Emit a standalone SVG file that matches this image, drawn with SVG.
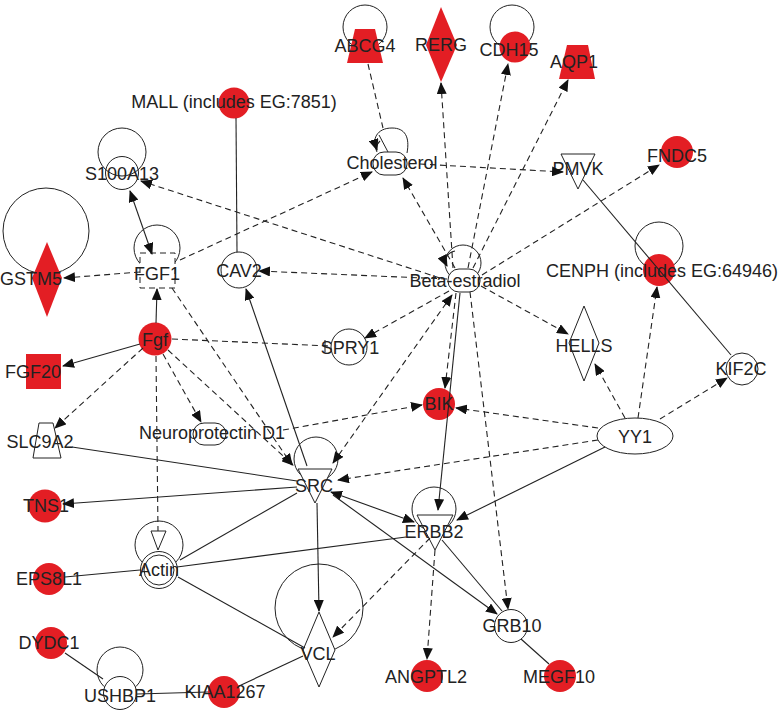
<svg xmlns="http://www.w3.org/2000/svg" width="779" height="711" viewBox="0 0 779 711">
<defs>
<style>
.n{fill:#fff;stroke:#222;stroke-width:1}
.o{fill:none;stroke:#222;stroke-width:1}
.r{fill:#e31e24;stroke:none}
.t{font-family:"Liberation Sans",Arial,sans-serif;font-size:18px;fill:#222;text-anchor:middle}
.e{fill:none;stroke:#222;stroke-width:1.1}
.d{stroke-dasharray:6 4}
.a{marker-end:url(#ah)}
.b{marker-start:url(#ah);marker-end:url(#ah)}
</style>
<marker id="ah" markerUnits="userSpaceOnUse" markerWidth="12" markerHeight="10" refX="11" refY="5" orient="auto-start-reverse" viewBox="0 0 12 10">
<path d="M0,0 L12,5 L0,10 z" fill="#111"/>
</marker>
</defs>
<rect width="779" height="711" fill="#fff"/>

<g id="ABCG4"><circle class="o" cx="365" cy="27" r="22"/><polygon class="r" points="355,29 375,29 383,63 347,63"/><text class="t" x="365" y="52">ABCG4</text></g>
<g id="RERG"><polygon class="r" points="441,7 457,45 441,82 426,45"/><text class="t" x="441" y="51">RERG</text></g>
<g id="CDH15"><circle class="o" cx="512" cy="27" r="22"/><circle class="r" cx="515" cy="47" r="15.5"/><text class="t" x="509" y="56">CDH15</text></g>
<g id="AQP1"><polygon class="r" points="567,45 588,45 595,79 559,79"/><text class="t" x="574" y="68">AQP1</text></g>
<g id="MALL"><circle class="r" cx="234" cy="103" r="15.5"/><text class="t" x="234" y="108">MALL (includes EG:7851)</text></g>
<g id="Cholesterol"><path class="o" d="M377,152 C371,139 377,128 392,128 C405,128 410,137 407,153"/><line class="o" x1="379" y1="135" x2="388" y2="152"/><rect class="n" x="373" y="152" width="34" height="23" rx="11"/><text class="t" x="392" y="169">Cholesterol</text></g>
<g id="PMVK"><polygon class="n" points="561,154 595,154 578,189"/><text class="t" x="578" y="175">PMVK</text></g>
<g id="FNDC5"><circle class="r" cx="677" cy="152" r="16"/><text class="t" x="677" y="162">FNDC5</text></g>
<g id="S100A13"><circle class="o" cx="122" cy="152" r="24"/><circle class="n" cx="122" cy="173" r="16.5" fill-opacity="0"/><text class="t" x="122" y="180">S100A13</text></g>
<g id="GSTM5"><circle class="o" cx="46" cy="231" r="43"/><polygon class="r" points="47,242 62,278 47,317 32,278"/><text class="t" x="31" y="285">GSTM5</text></g>
<g id="FGF1"><circle class="o" cx="157" cy="248" r="23"/><rect class="n d" x="140" y="253" width="35" height="35"/><text class="t" x="157" y="280">FGF1</text></g>
<g id="CAV2"><circle class="n" cx="239" cy="270" r="18"/><text class="t" x="239" y="277">CAV2</text></g>
<g id="Beta-estradiol"><circle class="o" cx="463" cy="263" r="18"/><rect class="n" x="448" y="269" width="32" height="23" rx="11"/><text class="t" x="465" y="287">Beta-estradiol</text></g>
<g id="CENPH"><circle class="o" cx="659" cy="246" r="24"/><circle class="r" cx="659" cy="270" r="16"/><text class="t" x="662" y="277">CENPH (includes EG:64946)</text></g>
<g id="Fgf"><circle class="r" cx="155" cy="339" r="16.5"/><text class="t" x="155" y="346">Fgf</text></g>
<g id="SPRY1"><circle class="n" cx="349" cy="347" r="18"/><text class="t" x="350" y="354">SPRY1</text></g>
<g id="HELLS"><polygon class="n" points="584,306 599,343 584,381 569,343"/><text class="t" x="584" y="352">HELLS</text></g>
<g id="FGF20"><rect class="r" x="26" y="354" width="35" height="35"/><text class="t" x="33" y="378">FGF20</text></g>
<g id="KIF2C"><circle class="n" cx="742" cy="369" r="16"/><text class="t" x="741" y="375">KIF2C</text></g>
<g id="BIK"><circle class="r" cx="439" cy="404" r="16"/><text class="t" x="439" y="410">BIK</text></g>
<g id="SLC9A2"><polygon class="n" points="39,423 53,423 61,458 33,458"/><text class="t" x="40" y="448">SLC9A2</text></g>
<g id="Neuroprotectin_D1"><rect class="n" x="193" y="423" width="33" height="22" rx="11"/><text class="t" x="212" y="439">Neuroprotectin D1</text></g>
<g id="YY1"><ellipse class="n" cx="635" cy="436" rx="38" ry="18"/><text class="t" x="635" y="443">YY1</text></g>
<g id="SRC"><circle class="o" cx="316" cy="459" r="22"/><polygon class="n" points="298,469 332,469 315,503"/><text class="t" x="314" y="492">SRC</text></g>
<g id="TNS1"><circle class="r" cx="45" cy="506" r="16.5"/><text class="t" x="46" y="512">TNS1</text></g>
<g id="ERBB2"><circle class="o" cx="434" cy="509" r="22"/><polygon class="n" points="417,515 453,515 435,550"/><text class="t" x="434" y="538">ERBB2</text></g>
<g id="Actin"><circle class="o" cx="159" cy="545" r="24"/><circle class="n" cx="159" cy="570" r="18.5"/><circle class="o" cx="159" cy="570" r="15"/><text class="t" x="159" y="576">Actin</text></g>
<g id="EPS8L1"><circle class="r" cx="49" cy="579" r="16"/><text class="t" x="49" y="585">EPS8L1</text></g>
<g id="GRB10"><circle class="n" cx="511" cy="626" r="16.5"/><text class="t" x="512" y="632">GRB10</text></g>
<g id="DYDC1"><circle class="r" cx="51" cy="643" r="16"/><text class="t" x="49" y="649">DYDC1</text></g>
<g id="VCL"><circle class="o" cx="319" cy="608" r="44"/><polygon class="n" points="319,612 335,650 319,687 303,650"/><text class="t" x="318" y="660">VCL</text></g>
<g id="ANGPTL2"><circle class="r" cx="427" cy="676" r="16"/><text class="t" x="426" y="683">ANGPTL2</text></g>
<g id="MEGF10"><circle class="r" cx="560" cy="676" r="16"/><text class="t" x="559" y="683">MEGF10</text></g>
<g id="USHBP1"><circle class="o" cx="120" cy="670" r="23"/><circle class="n" cx="120" cy="693" r="16.5"/><text class="t" x="120" y="702">USHBP1</text></g>
<g id="KIAA1267"><circle class="r" cx="224" cy="692" r="16"/><text class="t" x="225" y="698">KIAA1267</text></g>

<g id="connectors">
<!-- solid -->
<line class="e" x1="236" y1="118" x2="237" y2="252"/>
<line class="e a" x1="307" y1="466" x2="246" y2="289"/>
<line class="e b" x1="130" y1="191" x2="152" y2="254"/>
<line class="e a" x1="156" y1="323" x2="157" y2="289"/>
<line class="e a" x1="140" y1="344" x2="63" y2="366"/>
<line class="e" x1="72" y1="447" x2="297" y2="481"/>
<line class="e a" x1="297" y1="487" x2="63" y2="504"/>
<line class="e" x1="297" y1="493" x2="180" y2="560"/>
<line class="e a" x1="317" y1="503" x2="319" y2="611"/>
<line class="e b" x1="331" y1="492" x2="414" y2="522"/>
<line class="e a" x1="333" y1="495" x2="497" y2="614"/>
<line class="e" x1="442" y1="540" x2="502" y2="611"/>
<line class="e" x1="521" y1="639" x2="549" y2="664"/>
<line class="e a" x1="460" y1="293" x2="438" y2="510"/>
<line class="e a" x1="605" y1="447" x2="457" y2="520"/>
<line class="e" x1="177" y1="567" x2="406" y2="537"/>
<line class="e" x1="65" y1="577" x2="140" y2="570"/>
<line class="e" x1="178" y1="577" x2="305" y2="648"/>
<line class="e" x1="65" y1="653" x2="103" y2="679"/>
<line class="e" x1="137" y1="694" x2="208" y2="692"/>
<line class="e" x1="239" y1="686" x2="303" y2="656"/>
<line class="e" x1="583" y1="180" x2="731" y2="355"/>
<!-- self-loop arrows -->
<path class="e a" d="M455,251 C446,253 444,260 447,266"/>
<path class="e a" d="M380,141 C377,144 376,147 377,150"/>
<!-- dashed -->
<line class="e d" x1="368" y1="64" x2="383" y2="128"/>
<line class="e d a" x1="455" y1="268" x2="403" y2="178"/>
<line class="e d a" x1="180" y1="260" x2="372" y2="172"/>
<line class="e d a" x1="420" y1="164" x2="563" y2="172"/>
<line class="e d a" x1="453" y1="268" x2="441" y2="83"/>
<line class="e d a" x1="468" y1="268" x2="508" y2="64"/>
<line class="e d a" x1="473" y1="268" x2="568" y2="80"/>
<line class="e d a" x1="482" y1="275" x2="659" y2="165"/>
<line class="e d a" x1="440" y1="278" x2="141" y2="181"/>
<line class="e d a" x1="447" y1="279" x2="259" y2="271"/>
<line class="e d a" x1="449" y1="291" x2="365" y2="338"/>
<line class="e d a" x1="481" y1="286" x2="568" y2="334"/>
<line class="e d a" x1="456" y1="293" x2="445" y2="388"/>
<line class="e d a" x1="470" y1="292" x2="508" y2="609"/>
<line class="e d b" x1="333" y1="463" x2="452" y2="295"/>
<line class="e d a" x1="140" y1="272" x2="64" y2="278"/>
<line class="e d a" x1="172" y1="288" x2="292" y2="465"/>
<line class="e d a" x1="168" y1="350" x2="293" y2="465"/>
<line class="e d a" x1="163" y1="354" x2="201" y2="422"/>
<line class="e d a" x1="143" y1="348" x2="55" y2="428"/>
<line class="e d" x1="172" y1="339" x2="330" y2="346"/>
<line class="e" x1="325" y1="340" x2="325" y2="352"/>
<line class="e d" x1="156" y1="356" x2="158" y2="531"/>
<polygon class="n" points="151,531 166,531 158,550" fill-opacity="0"/>
<line class="e d a" x1="283" y1="430" x2="422" y2="405"/>
<line class="e d a" x1="598" y1="428" x2="456" y2="408"/>
<line class="e d a" x1="598" y1="440" x2="338" y2="480"/>
<line class="e d a" x1="625" y1="418" x2="595" y2="364"/>
<line class="e d a" x1="638" y1="418" x2="657" y2="287"/>
<line class="e d a" x1="660" y1="419" x2="727" y2="378"/>
<line class="e d a" x1="435" y1="550" x2="427" y2="659"/>
<line class="e d a" x1="430" y1="538" x2="333" y2="637"/>
</g>
</svg>
